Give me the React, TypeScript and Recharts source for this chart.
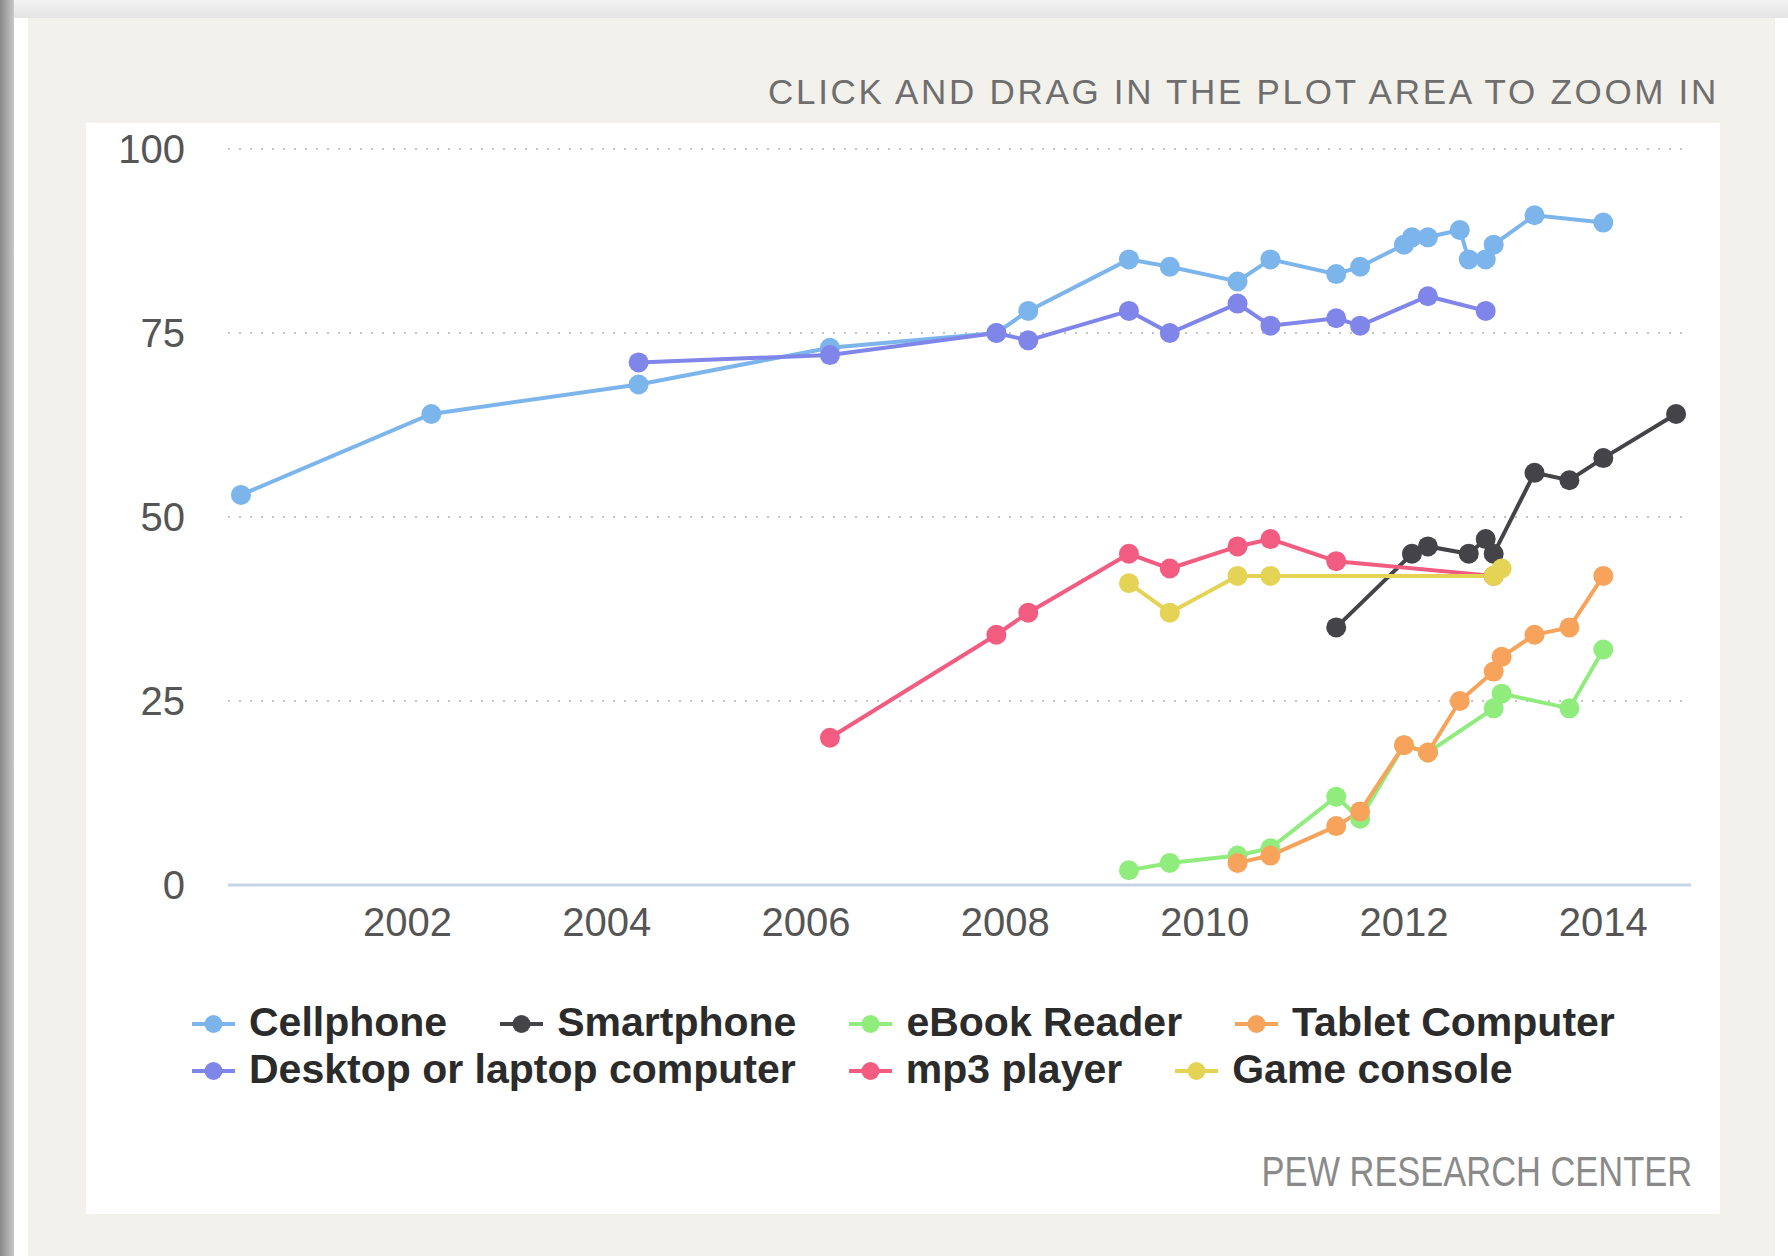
import { LineChart, Line, XAxis, YAxis, CartesianGrid } from "recharts";

// survey dates as decimal years
const surveyDates = [
  2000.33, 2002.24, 2004.32, 2006.24, 2007.91, 2008.23, 2009.24, 2009.65,
  2010.33, 2010.66, 2011.32, 2011.56, 2012.0, 2012.08, 2012.24, 2012.56,
  2012.65, 2012.82, 2012.9, 2012.98, 2013.31, 2013.66, 2014.0, 2014.73,
];

const cellphone = [53, 64, 68, 73, 75, 78, 85, 84, 82, 85, 83, 84, 87, 88, 88, 89, 85, 85, 87, null, 91, null, 90, null];
const smartphone = [null, null, null, null, null, null, null, null, null, null, 35, null, null, 45, 46, null, 45, 47, 45, null, 56, 55, 58, 64];
const ebookReader = [null, null, null, null, null, null, 2, 3, 4, 5, 12, 9, 19, null, 18, null, null, null, 24, 26, null, 24, 32, null];
const tablet = [null, null, null, null, null, null, null, null, 3, 4, 8, 10, 19, null, 18, 25, null, null, 29, 31, 34, 35, 42, null];
const desktop = [null, null, 71, 72, 75, 74, 78, 75, 79, 76, 77, 76, null, null, 80, null, null, 78, null, null, null, null, null, null];
const mp3Player = [null, null, null, 20, 34, 37, 45, 43, 46, 47, 44, null, null, null, null, null, null, null, 42, null, null, null, null, null];
const gameConsole = [null, null, null, null, null, null, 41, 37, 42, 42, null, null, null, null, null, null, null, null, 42, 43, null, null, null, null];

const yearTicks = [2002, 2004, 2006, 2008, 2010, 2012, 2014];
const valueTicks = [0, 25, 50, 75, 100];

const SERIES = [
  { key: "cellphone", label: "Cellphone", color: "#7cb5ec", values: cellphone },
  { key: "smartphone", label: "Smartphone", color: "#434348", values: smartphone },
  { key: "ebook", label: "eBook Reader", color: "#90ed7d", values: ebookReader },
  { key: "tablet", label: "Tablet Computer", color: "#f7a35c", values: tablet },
  { key: "desktop", label: "Desktop or laptop computer", color: "#8085e9", values: desktop },
  { key: "mp3", label: "mp3 player", color: "#f15c80", values: mp3Player },
  { key: "game", label: "Game console", color: "#e4d354", values: gameConsole },
];

const rows = surveyDates.map((x, i) => {
  const row: Record<string, number | null> = { x };
  SERIES.forEach((s) => {
    row[s.key] = s.values[i];
  });
  return row;
});

const FONT = "'Liberation Sans', Arial, sans-serif";

function LegendItem({ label, color }: { label: string; color: string }) {
  return (
    <div style={{ display: "flex", alignItems: "center", marginRight: 53 }}>
      <svg width={43} height={47} style={{ marginRight: 14 }}>
        <line x1={0} y1={25} x2={43} y2={25} stroke={color} strokeWidth={4} />
        <circle cx={21.5} cy={25} r={9} fill={color} />
      </svg>
      <span style={{ fontSize: 41, fontWeight: 700, color: "#2b2b2b", lineHeight: "47px", whiteSpace: "nowrap" }}>
        {label}
      </span>
    </div>
  );
}

export default function App() {
  const legendRows = [SERIES.slice(0, 4), SERIES.slice(4)];
  return (
    <div
      style={{
        position: "absolute",
        left: 0,
        top: 0,
        width: 1788,
        height: 1256,
        background: "#fff",
        overflow: "hidden",
        fontFamily: FONT,
      }}
    >
      <div style={{ position: "absolute", left: 0, top: 0, width: 1788, height: 18, background: "linear-gradient(#f3f3f3, #e4e4e4)" }} />
      <div style={{ position: "absolute", left: 0, top: 0, width: 14, height: 1256, background: "linear-gradient(to right, #8a8a8a, #c8c8c8)" }} />
      <div style={{ position: "absolute", left: 14, top: 18, width: 14, height: 1238, background: "#fff" }} />
      <div style={{ position: "absolute", left: 28, top: 18, width: 1747, height: 1238, background: "#f2f1ec" }} />

      <div
        style={{
          position: "absolute",
          right: 69,
          top: 74,
          fontSize: 35,
          lineHeight: "35px",
          letterSpacing: 2.7,
          color: "#6e6e6e",
          whiteSpace: "nowrap",
        }}
      >
        CLICK AND DRAG IN THE PLOT AREA TO ZOOM IN
      </div>

      <div style={{ position: "absolute", left: 86, top: 123, width: 1634, height: 1091, background: "#fff" }}>
        <LineChart width={1634} height={850} data={rows} margin={{ top: 26, right: 29, left: 0, bottom: 28 }}>
          <CartesianGrid vertical={false} stroke="#c4c4c4" strokeWidth={2} strokeDasharray="2 9" />
          <XAxis
            type="number"
            dataKey="x"
            domain={[2000.2, 2014.88]}
            ticks={yearTicks}
            allowDataOverflow
            interval={0}
            height={60}
            tickLine={false}
            tickSize={0}
            tickMargin={23}
            axisLine={{ stroke: "#c6d4e3", strokeWidth: 3 }}
            tick={{ fill: "#555", fontSize: 40, fontFamily: FONT }}
          />
          <YAxis
            domain={[0, 100]}
            ticks={valueTicks}
            width={142}
            axisLine={false}
            tickLine={false}
            tickSize={0}
            tickMargin={43}
            tick={{ fill: "#555", fontSize: 40, fontFamily: FONT }}
          />
          {SERIES.map((s) => (
            <Line
              key={s.key}
              type="linear"
              dataKey={s.key}
              stroke={s.color}
              strokeWidth={4}
              connectNulls
              dot={{ r: 10, fill: s.color, strokeWidth: 0 }}
              activeDot={false}
              isAnimationActive={false}
            />
          ))}
        </LineChart>

        <div style={{ position: "absolute", left: 106, top: 876 }}>
          {legendRows.map((row, i) => (
            <div key={i} style={{ display: "flex", height: 47 }}>
              {row.map((s) => (
                <LegendItem key={s.key} label={s.label} color={s.color} />
              ))}
            </div>
          ))}
        </div>

        <div
          style={{
            position: "absolute",
            right: 28,
            top: 1028,
            fontSize: 42,
            lineHeight: "42px",
            color: "#8a8a8a",
            whiteSpace: "nowrap",
            transform: "scaleX(0.82)",
            transformOrigin: "right center",
          }}
        >
          PEW RESEARCH CENTER
        </div>
      </div>
    </div>
  );
}
